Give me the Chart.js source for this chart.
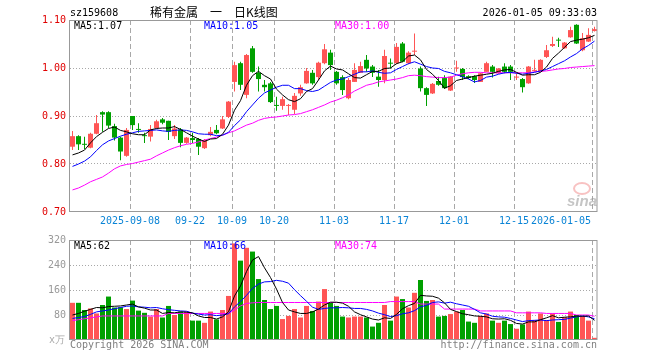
<!DOCTYPE html>
<html><head><meta charset="utf-8">
<script src="https://cdn.jsdelivr.net/npm/chart.js@4.4.1/dist/chart.umd.min.js"></script>
<style>
html,body{margin:0;padding:0;background:#fff;}
#wrap{position:relative;width:660px;height:360px;overflow:hidden;font-family:"DejaVu Sans Mono",monospace;font-size:10px;}
canvas{position:absolute;left:0;}
.t{position:absolute;white-space:pre;line-height:10px;}
.cjk{font-family:"Noto Sans CJK SC",sans-serif;font-size:12px;line-height:12px;}
</style></head><body>
<div id="wrap">
<canvas id="pc" width="660" height="230" style="top:0"></canvas>
<canvas id="vc" width="660" height="130" style="top:230px"></canvas>
<div class="t" style="left:70px;top:8px;color:#000">sz159608</div>
<div class="t cjk" style="left:150px;top:6px;color:#000">稀有金属　一　日K线图</div>
<div class="t" style="right:63px;top:8px;color:#000">2026-01-05 09:33:03</div>
<div class="t" style="left:74px;top:21px;color:#000">MA5:1.07</div>
<div class="t" style="left:204px;top:21px;color:#0000ff">MA10:1.05</div>
<div class="t" style="left:335px;top:21px;color:#ff00ff">MA30:1.00</div>
<div class="t" style="left:74px;top:241px;color:#000">MA5:62</div>
<div class="t" style="left:204px;top:241px;color:#0000ff">MA10:66</div>
<div class="t" style="left:335px;top:241px;color:#ff00ff">MA30:74</div>
<div class="t" style="left:49px;top:335px;color:#aaa">x万</div>
<div class="t" style="left:70px;top:340px;color:#808080">Copyright 2026 SINA.COM</div>
<div class="t" style="right:63px;top:340px;color:#808080">http://finance.sina.com.cn</div>
<div style="position:absolute;left:573px;top:182px;width:14px;height:9px;border:2px solid rgba(240,120,120,0.45);border-radius:50%;"></div>
<div class="t" style="left:567px;top:193px;font:italic bold 15px 'Liberation Sans',sans-serif;line-height:15px;color:rgba(150,150,150,0.55)">sina</div>
</div>
<script>
// ---- data ----
const dates = ['2025-08-25','2025-08-26','2025-08-27','2025-08-28','2025-08-29','2025-09-01','2025-09-02','2025-09-03','2025-09-04','2025-09-05',
'2025-09-08','2025-09-09','2025-09-10','2025-09-11','2025-09-12','2025-09-15','2025-09-16','2025-09-17','2025-09-18','2025-09-19',
'2025-09-22','2025-09-23','2025-09-24','2025-09-25','2025-09-26','2025-09-29','2025-09-30','2025-10-09','2025-10-10','2025-10-13',
'2025-10-14','2025-10-15','2025-10-16','2025-10-17','2025-10-20','2025-10-21','2025-10-22','2025-10-23','2025-10-24','2025-10-27',
'2025-10-28','2025-10-29','2025-10-30','2025-10-31','2025-11-03','2025-11-04','2025-11-05','2025-11-06','2025-11-07','2025-11-10',
'2025-11-11','2025-11-12','2025-11-13','2025-11-14','2025-11-17','2025-11-18','2025-11-19','2025-11-20','2025-11-21','2025-11-24',
'2025-11-25','2025-11-26','2025-11-27','2025-11-28','2025-12-01','2025-12-02','2025-12-03','2025-12-04','2025-12-05','2025-12-08',
'2025-12-09','2025-12-10','2025-12-11','2025-12-12','2025-12-15','2025-12-16','2025-12-17','2025-12-18','2025-12-19','2025-12-22',
'2025-12-23','2025-12-24','2025-12-25','2025-12-26','2025-12-29','2025-12-30','2025-12-31','2026-01-05'];

const open = [0.836,0.858,0.842,0.834,0.863,0.908,0.908,0.879,0.855,0.817,
0.900,0.873,0.860,0.857,0.875,0.893,0.890,0.858,0.872,0.844,
0.854,0.852,0.833,0.860,0.871,0.874,0.898,0.971,1.010,0.944,
1.041,0.990,0.965,0.968,0.923,0.921,0.921,0.913,0.947,0.968,
0.990,0.981,1.010,1.032,0.992,0.981,0.937,0.971,0.990,1.017,
1.003,0.982,0.975,1.010,1.010,1.051,1.010,1.034,0.999,0.958,
0.947,0.973,0.979,0.953,0.999,0.998,0.983,0.983,0.971,0.992,
1.003,0.989,1.003,1.003,0.980,0.977,0.968,0.994,0.992,1.023,
1.046,1.059,1.041,1.064,1.090,1.037,1.055,1.077];

const high = [0.869,0.860,0.857,0.865,0.902,0.910,0.910,0.884,0.857,0.875,
0.900,0.885,0.865,0.881,0.892,0.896,0.890,0.881,0.875,0.856,
0.865,0.854,0.852,0.877,0.881,0.900,0.931,1.013,1.013,1.029,
1.046,1.003,0.975,0.971,0.940,0.940,0.925,0.948,0.965,1.000,
0.996,1.013,1.050,1.038,0.994,0.985,0.979,1.010,1.013,1.027,
1.006,0.996,1.038,1.020,1.052,1.054,1.035,1.072,1.003,0.960,
0.969,0.982,0.985,0.983,1.015,1.000,0.985,0.985,0.990,1.013,
1.006,1.000,1.010,1.006,0.989,0.979,1.004,1.017,1.018,1.048,
1.065,1.063,1.054,1.086,1.091,1.073,1.083,1.086];

const low = [0.829,0.829,0.831,0.833,0.862,0.867,0.875,0.849,0.808,0.815,
0.871,0.865,0.844,0.847,0.874,0.883,0.850,0.852,0.835,0.842,
0.844,0.819,0.831,0.858,0.862,0.873,0.896,0.951,0.954,0.937,
0.990,0.951,0.951,0.927,0.911,0.913,0.902,0.904,0.942,0.967,
0.965,0.975,1.008,0.996,0.965,0.944,0.935,0.971,0.990,0.992,
0.981,0.961,0.968,0.999,1.008,1.012,1.008,1.027,0.951,0.921,
0.946,0.963,0.956,0.952,0.992,0.975,0.977,0.969,0.971,0.992,
0.980,0.988,0.989,0.975,0.975,0.949,0.967,0.992,0.992,1.021,
1.044,1.044,1.040,1.063,1.050,1.035,1.054,1.076];

const close = [0.858,0.841,0.840,0.863,0.885,0.903,0.880,0.855,0.826,0.871,
0.881,0.871,0.858,0.873,0.889,0.886,0.867,0.874,0.844,0.855,
0.850,0.836,0.850,0.867,0.864,0.893,0.930,1.006,0.965,1.027,
0.992,0.977,0.960,0.929,0.921,0.935,0.923,0.942,0.960,0.994,
0.968,1.011,1.039,1.006,0.968,0.954,0.975,0.996,1.004,0.999,
0.990,0.975,1.025,1.009,1.044,1.013,1.032,1.036,0.958,0.944,
0.967,0.965,0.958,0.982,1.000,0.981,0.979,0.975,0.989,1.010,
0.992,0.999,0.992,0.992,0.982,0.960,1.003,0.995,1.017,1.037,
1.050,1.057,1.053,1.079,1.051,1.062,1.069,1.081];

const ma5 = [0.819,0.823,0.829,0.844,0.857,0.866,0.874,0.877,0.870,0.867,
0.863,0.861,0.861,0.871,0.874,0.875,0.875,0.878,0.872,0.865,
0.858,0.852,0.847,0.852,0.853,0.862,0.881,0.912,0.932,0.964,
0.984,0.993,0.984,0.977,0.956,0.944,0.934,0.930,0.936,0.951,
0.957,0.975,0.994,1.004,0.998,0.996,0.988,0.980,0.979,0.986,
0.993,0.993,0.999,1.000,1.009,1.013,1.025,1.027,1.017,0.997,
0.987,0.974,0.958,0.963,0.974,0.977,0.980,0.983,0.985,0.987,
0.989,0.993,0.996,0.997,0.991,0.985,0.986,0.986,0.991,1.002,
1.020,1.031,1.043,1.055,1.058,1.060,1.063,1.068];

const ma10 = [0.795,0.800,0.806,0.815,0.828,0.840,0.848,0.853,0.858,0.862,
0.865,0.868,0.869,0.870,0.871,0.869,0.868,0.870,0.871,0.870,
0.867,0.863,0.862,0.862,0.859,0.860,0.866,0.880,0.892,0.909,
0.923,0.937,0.948,0.954,0.960,0.964,0.964,0.957,0.957,0.953,
0.951,0.954,0.962,0.970,0.975,0.977,0.982,0.987,0.992,0.992,
0.994,0.991,0.989,0.990,0.997,1.003,1.009,1.013,1.008,1.003,
1.000,0.999,0.993,0.990,0.986,0.982,0.977,0.971,0.974,0.981,
0.983,0.987,0.990,0.991,0.989,0.987,0.989,0.991,0.994,0.997,
1.003,1.009,1.015,1.023,1.030,1.040,1.047,1.056];

const ma30 = [0.746,0.750,0.756,0.763,0.768,0.773,0.781,0.790,0.796,0.799,
0.801,0.804,0.807,0.810,0.817,0.823,0.829,0.834,0.838,0.841,
0.843,0.846,0.850,0.853,0.856,0.860,0.865,0.869,0.875,0.881,
0.885,0.891,0.895,0.897,0.898,0.900,0.902,0.903,0.905,0.909,
0.913,0.918,0.923,0.929,0.933,0.938,0.944,0.952,0.958,0.964,
0.967,0.971,0.973,0.975,0.977,0.980,0.984,0.985,0.984,0.982,
0.981,0.980,0.980,0.981,0.985,0.988,0.990,0.991,0.991,0.990,
0.990,0.990,0.990,0.990,0.990,0.990,0.990,0.992,0.993,0.994,
0.996,0.998,0.999,1.001,1.002,1.003,1.004,1.005];

const volume = [119,119,96,101,85,112,139,104,105,99,
126,94,87,75,99,72,109,80,91,91,
62,62,55,91,66,96,141,309,254,295,
283,195,128,99,109,67,77,99,72,109,
93,123,163,119,109,75,72,75,75,72,
43,55,112,62,139,131,104,151,192,125,
128,75,77,83,91,96,59,55,77,85,
62,55,62,51,36,50,91,64,85,64,
85,58,73,91,80,77,62,7];

const vma5 = [80,85,92,98,104,103,107,108,109,112,
115,106,102,96,96,85,88,87,90,89,
87,77,72,72,67,74,90,141,173,219,
256,267,231,200,163,120,96,90,85,85,
90,99,112,121,121,118,108,90,81,74,
67,64,71,69,82,100,110,117,143,141,
140,134,119,98,91,84,81,77,76,74,
68,67,68,63,53,51,58,58,65,71,
78,71,73,74,77,76,77,63];

const vma10 = [69,72,75,82,90,93,96,100,104,108,
109,106,105,103,104,100,97,95,93,92,
86,83,80,81,78,80,84,106,123,143,
165,179,186,187,191,188,182,161,142,124,
105,98,101,103,103,104,103,101,101,98,
93,86,81,75,78,84,87,94,106,111,
120,122,118,121,116,112,108,98,87,83,
76,74,73,69,64,59,62,63,64,62,
64,65,66,70,74,77,74,68];

const vma30 = [62,65,68,71,74,77,77,77,77,77,
77,77,77,77,77,77,85,85,85,85,
85,85,85,85,85,85,85,96,109,117,
119,120,120,120,120,120,120,120,120,120,
120,120,120,120,120,120,120,120,120,120,
120,120,120,123,123,123,123,123,115,115,
115,115,99,99,99,99,99,99,93,93,
93,93,93,93,87,87,87,87,87,85,
85,85,85,85,80,80,80,76];

const dateTickIndex = [10,20,27,34,44,54,64,74,87];
const dateTickLabels = ['2025-09-08','09-22','10-09','10-20','11-03','11-17','12-01','12-15','2026-01-05'];
const priceTicks = [0.70,0.80,0.90,1.00,1.10];
const volTicks = [0,80,160,240,320];

// ---- styles ----
const UP = '#ff5555', DOWN = '#00a000';
const GRID = '#a8a8a8';
const FRAME = '#999999';
const MONO = {family:'DejaVu Sans Mono', size:10};
const candleColor = dates.map((d,i)=> close[i] >= open[i] ? UP : DOWN);

// x geometry: candle i centred at 72.5 + 6i across plot 70..597
const XMIN = -0.41667, XMAX = 87.41667;
const gridVal = k => k - 0.41667 + 0.0005;
const xTicks = [], xTickText = [], xTickGrid = [];
dateTickIndex.forEach((k,j)=>{
  if (j < dateTickIndex.length-1) { xTicks.push(gridVal(k)); xTickText.push(dateTickLabels[j]); xTickGrid.push(true); }
});
xTicks.push(gridVal(dateTickIndex[dateTickIndex.length-1])); xTickText.push(''); xTickGrid.push(true);
xTicks.push(81.42); xTickText.push(dateTickLabels[dateTickLabels.length-1]); xTickGrid.push(false);

const frame = {
  id:'frame',
  afterDraw(chart){
    const {ctx, chartArea:a} = chart;
    ctx.save();
    ctx.strokeStyle = FRAME; ctx.lineWidth = 1; ctx.setLineDash([]);
    ctx.strokeRect(a.left-0.5, a.top+0.5, a.right-a.left+0.5, a.bottom-a.top-1);
    ctx.restore();
  }
};

function xScale(showLabels, height){
  return {
    type:'linear', min:XMIN, max:XMAX, offset:false, bounds:'ticks',
    afterFit: s => { s.height = height; },
    afterBuildTicks: s => { s.ticks = xTicks.map(v=>({value:v})); },
    afterDataLimits: s => { s.min = XMIN; s.max = XMAX; },
    ticks:{display:showLabels, autoSkip:false, maxRotation:0, minRotation:0, padding:3,
           color:'#0a84d6', font:MONO, callback:(v,i)=>xTickText[i]},
    grid:{offset:false, drawTicks:false, lineWidth:1, color: c => xTickGrid[c.index] ? GRID : 'rgba(0,0,0,0)'},
    border:{display:false, dash:[5,3]}
  };
}

const pts = arr => arr.map((v,i)=>({x:i, y:v}));
const lineDs = (arr,color) => ({type:'line', data:pts(arr), borderColor:color, borderWidth:1, pointRadius:0, tension:0, order:0});

new Chart(document.getElementById('pc'), {
  type:'bar',
  data:{datasets:[
    lineDs(ma5,'#000000'),
    lineDs(ma10,'#0000ff'),
    lineDs(ma30,'#ff00ff'),
    {type:'bar', data: dates.map((d,i)=>({x:i, y:[open[i], close[i]]})), backgroundColor:candleColor,
     barThickness:5, grouped:false, minBarLength:1, borderWidth:0, inflateAmount:0, order:1},
    {type:'bar', data: dates.map((d,i)=>({x:i, y:[low[i], high[i]]})), backgroundColor:candleColor,
     barThickness:1, grouped:false, borderWidth:0, inflateAmount:0, order:2}
  ]},
  options:{
    responsive:false, animation:false, events:[],
    layout:{padding:{top:20, right:63, left:0, bottom:0}},
    plugins:{legend:{display:false}, tooltip:{enabled:false}, title:{display:false}},
    scales:{
      x: xScale(true, 18),
      y: {
        min:0.70, max:1.10,
        afterFit: s => { s.width = 70; },
        afterBuildTicks: s => { s.ticks = priceTicks.map(v=>({value:v})); },
        ticks:{color:'#e00000', font:MONO, padding:4, callback: v => Number(v).toFixed(2)},
        grid:{drawTicks:false, lineWidth:1, color: c => (c.index>0 && c.index<priceTicks.length-1) ? GRID : 'rgba(0,0,0,0)'},
        border:{display:false, dash:[1,2]}
      }
    }
  },
  plugins:[frame]
});

new Chart(document.getElementById('vc'), {
  type:'bar',
  data:{datasets:[
    lineDs(vma5,'#000000'),
    lineDs(vma10,'#0000ff'),
    lineDs(vma30,'#ff00ff'),
    {type:'bar', data: dates.map((d,i)=>({x:i, y:volume[i]})), backgroundColor:candleColor,
     barThickness:5, grouped:false, borderWidth:0, inflateAmount:0, order:1}
  ]},
  options:{
    responsive:false, animation:false, events:[],
    layout:{padding:{top:10, right:63, left:0, bottom:0}},
    plugins:{legend:{display:false}, tooltip:{enabled:false}},
    scales:{
      x: xScale(false, 20),
      y: {
        min:0, max:320,
        afterFit: s => { s.width = 70; },
        afterBuildTicks: s => { s.ticks = volTicks.map(v=>({value:v})); },
        ticks:{color:'#999999', font:MONO, padding:4, callback: v => v === 0 ? '' : String(v)},
        grid:{drawTicks:false, lineWidth:1, color: c => (c.index>0 && c.index<volTicks.length-1) ? GRID : 'rgba(0,0,0,0)'},
        border:{display:false, dash:[1,2]}
      }
    }
  },
  plugins:[frame]
});
</script>
</body></html>
